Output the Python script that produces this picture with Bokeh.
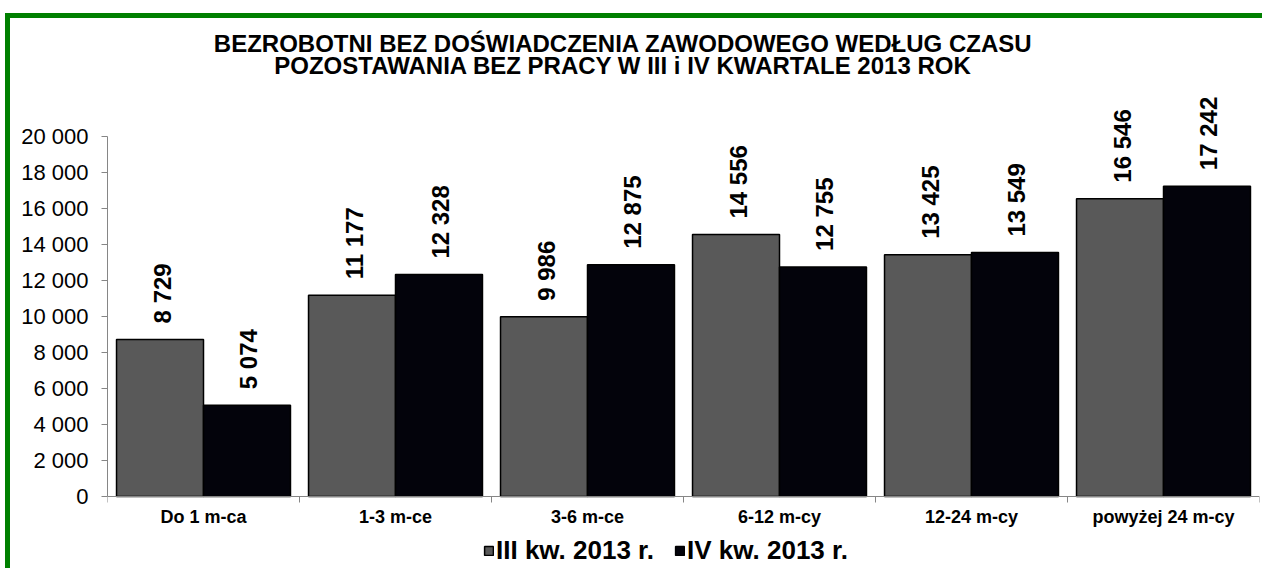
import math
from bokeh.plotting import figure
from bokeh.models import (ColumnDataSource, Range1d, FixedTicker, Label, Legend,
                          LegendItem)
from bokeh.core.properties import value
from bokeh.embed import file_html
from bokeh.resources import INLINE

categories = ["Do 1 m-ca", "1-3 m-ce", "3-6 m-ce", "6-12 m-cy", "12-24 m-cy", "powyżej 24 m-cy"]
q3_values = [8729, 11177, 9986, 14556, 13425, 16546]
q4_values = [5074, 12328, 12875, 12755, 13549, 17242]
series_names = ["III kw. 2013 r.", "IV kw. 2013 r."]
y_ticks = [0, 2000, 4000, 6000, 8000, 10000, 12000, 14000, 16000, 18000, 20000]
title_line1 = "BEZROBOTNI BEZ DOŚWIADCZENIA ZAWODOWEGO WEDŁUG  CZASU"
title_line2 = "POZOSTAWANIA BEZ PRACY W  III i IV KWARTALE 2013 ROK"

FONT = "Liberation Sans"


def fmt(v):
    return f"{v:,}".replace(",", " ")


W, H = 1262, 568
left, right = 107, 3
zero_y = 496            # pixel row of value 0
px_per_unit = 360 / 20000
y_start = -(H - zero_y) / px_per_unit
y_end = zero_y / px_per_unit

green = "#008000"
p = figure(width=W, height=H, output_backend="svg", toolbar_location=None,
           x_range=Range1d(0, len(categories)), y_range=Range1d(y_start, y_end),
           min_border_top=0, min_border_bottom=0, min_border_left=left,
           min_border_right=right, title_location=None)
p.background_fill_color = None
p.border_fill_color = None
p.outline_line_color = None
p.grid.visible = False
p.styles = {
    "background": (f"linear-gradient({green},{green}) 5px 13px / 100% 5px no-repeat, "
                   f"linear-gradient({green},{green}) 5px 13px / 5px 100% no-repeat, white"),
}

idx = list(range(len(categories)))
src = ColumnDataSource(dict(
    x3=[i + 0.5 - 0.2265 for i in idx],
    x4=[i + 0.5 + 0.2265 for i in idx],
    q3=q3_values, q4=q4_values,
    l3=[fmt(v) for v in q3_values], l4=[fmt(v) for v in q4_values],
))

r3 = p.vbar(x="x3", top="q3", width=0.453, source=src, fill_color="#595959",
            line_color="#000000", line_width=1.5)
r4 = p.vbar(x="x4", top="q4", width=0.453, source=src, fill_color="#03030b",
            line_color="#000000", line_width=1.5)

for xc, tc, lc in (("x3", "q3", "l3"), ("x4", "q4", "l4")):
    p.text(x=xc, y=tc, text=lc, source=src, angle=math.pi / 2,
           text_align="left", text_baseline="middle", y_offset=-16, x_offset=2,
           text_font=value(FONT), text_font_style="bold", text_font_size="24px",
           text_color="black")

# axes
ya = p.yaxis[0]
ya.axis_label = None
ya.ticker = FixedTicker(ticks=y_ticks)
ya.major_label_overrides = {t: fmt(t) for t in y_ticks}
ya.bounds = (0, 20000)
ya.axis_line_color = "#868686"
ya.major_tick_line_color = "#868686"
ya.major_tick_out = 6
ya.major_tick_in = 0
ya.minor_tick_line_color = None
ya.major_label_standoff = 13
ya.major_label_text_font = FONT
ya.major_label_text_font_size = "22px"
ya.major_label_text_color = "black"

xa = p.xaxis[0]
xa.axis_label = None
xa.fixed_location = 0
centers = [i + 0.5 for i in idx]
xa.ticker = FixedTicker(ticks=centers, minor_ticks=list(range(len(categories) + 1)))
xa.major_label_overrides = {c: n for c, n in zip(centers, categories)}
xa.axis_line_color = "#868686"
xa.major_tick_line_color = None
xa.major_tick_out = 0
xa.major_tick_in = 0
xa.minor_tick_line_color = "#868686"
xa.minor_tick_out = 6
xa.minor_tick_in = 0
xa.major_label_standoff = 4
xa.major_label_text_font = FONT
xa.major_label_text_font_style = "bold"
xa.major_label_text_font_size = "18px"
xa.major_label_text_color = "black"

# two-line title, centred at x = 626 px of the canvas
for txt, ypx in ((title_line1, 43), (title_line2, 65)):
    p.add_layout(Label(x=626 - left, y=H - ypx, x_units="screen", y_units="screen",
                       text=txt, text_align="center", text_baseline="middle",
                       text_font=FONT, text_font_style="bold",
                       text_font_size="24px", text_color="black"))

legend = Legend(items=[LegendItem(label=series_names[0], renderers=[r3]),
                       LegendItem(label=series_names[1], renderers=[r4])],
                orientation="horizontal", location=(376, 2))
legend.label_text_font = FONT
legend.label_text_font_style = "bold"
legend.label_text_font_size = "26px"
legend.label_text_color = "black"
legend.glyph_width = 11
legend.glyph_height = 11
legend.label_standoff = 2
legend.spacing = 20
legend.padding = 0
legend.margin = 0
legend.border_line_color = None
legend.background_fill_alpha = 0
p.add_layout(legend)

open("out.html", "w").write(file_html(p, INLINE))
